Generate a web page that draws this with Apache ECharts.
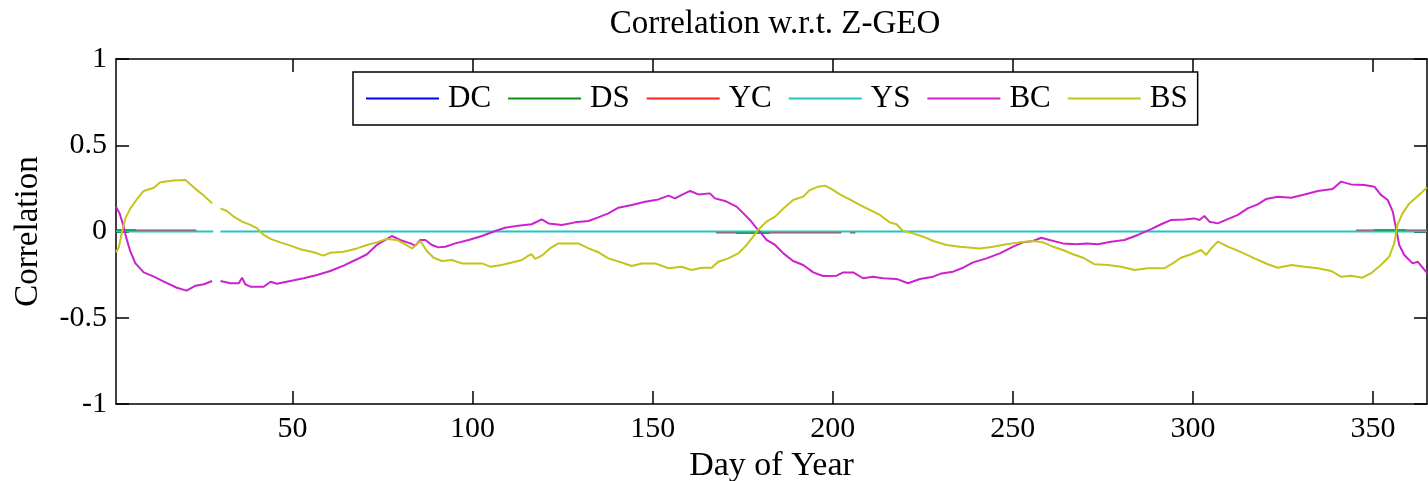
<!DOCTYPE html>
<html>
<head>
<meta charset="utf-8">
<script src="https://cdn.jsdelivr.net/npm/echarts@6/dist/echarts.min.js"></script>
<style>
  html, body { margin: 0; padding: 0; background: #fff; }
  #chart { width: 1428px; height: 481px; }
</style>
</head>
<body>
<div id="chart"></div>
<script>
// x ticks (day of year)
const xTicks = [50, 100, 150, 200, 250, 300, 350]

// near-zero coefficient lines, null = gap in data
const dcDays = [1, 6.5, 6.6, 173.2, 182.6, 182.7, 350.2, 359.1]
const dcVals = [0.006, 0.006, null, -0.006, -0.006, null, 0.006, 0.006]
const dsDays = [1, 6.5, 6.6, 173.2, 182.6, 182.7, 350.2, 359.1]
const dsVals = [0.006, 0.006, null, -0.006, -0.006, null, 0.006, 0.006]
const ycDays = [6.5, 23.3, 23.4, 167.6, 173.2, 173.3, 182.6, 202.4, 202.5, 204.8, 206.3, 206.4, 345.3, 350.2, 350.3, 359.1, 365]
const ycVals = [0.006, 0.006, null, -0.006, -0.006, null, -0.006, -0.006, null, -0.006, -0.006, null, 0.006, 0.006, null, 0.006, 0.006]
const ysDays = [1, 28, 29, 30, 365]
const ysVals = [0, 0, null, 0, 0]

// BC (magenta)
const bcDays = [1, 2, 3, 3.9, 5, 6.4, 8.7, 11.5, 14.3, 17.9, 20.6, 23.1, 25.4, 27.7, 29,
  30, 32.8, 35.1, 36, 36.9, 38.3, 42, 43.9, 45.7, 49.4, 53.1, 56.8, 60.5, 64.2, 67.9,
  70.7, 73.4, 75.8, 77.6, 79.9, 82.7, 84.1, 85.5, 86.9, 88.7, 90.5, 92.4, 95.2, 98.9,
  102.6, 106.3, 109, 112.7, 116.4, 119.2, 121.1, 124.8, 128.5, 132.2, 134.9, 137.7,
  140.5, 144.2, 147.9, 151.6, 154.4, 156.2, 158.1, 160.4, 162.7, 165.9, 167.3, 170.1,
  173.3, 175.2, 177, 178.9, 179.8, 181.6, 184, 186.3, 189, 191.8, 194.6, 197.3, 201.1,
  202.9, 205.7, 208.4, 211.2, 214, 217.7, 220.9, 224.2, 227.9, 230.2, 233.4, 236.2,
  239, 242.7, 246.4, 250.1, 252.8, 255.6, 257.9, 260.2, 263.9, 267.6, 270.5, 273.6,
  277.3, 281, 284.7, 288.4, 291.2, 294, 297.7, 300.4, 301.8, 303.2, 304.6, 306.9,
  309.7, 312.5, 315.2, 318, 320.3, 323.6, 327.3, 331, 334.7, 338.8, 341.1, 343.9,
  347.6, 350.4, 352.2, 354.1, 355.5, 356.4, 357.3, 358.7, 361, 362.4, 364.7, 365]
const bcVals = [0.144, 0.105, 0.038, -0.04, -0.117, -0.185, -0.237, -0.262, -0.291, -0.326, -0.343, -0.314, -0.306, -0.287, null,
  -0.287, -0.3, -0.3, -0.268, -0.306, -0.32, -0.32, -0.291, -0.303, -0.287, -0.271, -0.252, -0.229, -0.198, -0.161,
  -0.132, -0.078, -0.049, -0.026, -0.049, -0.069, -0.082, -0.049, -0.049, -0.078, -0.092, -0.088, -0.069, -0.049,
  -0.026, 0.003, 0.022, 0.034, 0.042, 0.07, 0.047, 0.038, 0.053, 0.061, 0.082, 0.105,
  0.138, 0.154, 0.173, 0.186, 0.208, 0.192, 0.212, 0.235, 0.215, 0.221, 0.192, 0.177,
  0.144, 0.105, 0.067, 0.018, -0.001, -0.049, -0.078, -0.127, -0.171, -0.194, -0.237, -0.258, -0.256,
  -0.237, -0.237, -0.271, -0.262, -0.271, -0.275, -0.3, -0.275, -0.262, -0.243, -0.233, -0.21,
  -0.179, -0.156, -0.127, -0.088, -0.063, -0.055, -0.036, -0.049, -0.069, -0.074, -0.069, -0.074,
  -0.059, -0.049, -0.02, 0.014, 0.042, 0.067, 0.07, 0.076, 0.067, 0.09, 0.057, 0.047,
  0.072, 0.096, 0.134, 0.157, 0.188, 0.202, 0.196, 0.215, 0.235, 0.246, 0.289, 0.273,
  0.27, 0.26, 0.212, 0.183, 0.115, 0.018, -0.078, -0.136, -0.185, -0.175, -0.233, -0.24]

// BS (yellow)
const bsDays = [1, 1.8, 2.7, 3.6, 5, 6.9, 8.7, 11.5, 13.3, 17, 20.3, 23.1, 25.4, 27.7, 29,
  30, 31.8, 33.7, 36, 38.3, 40.2, 42, 43.9, 46.6, 49.4, 52.2, 55.9, 58.6, 60.5, 64.2,
  67.9, 70.7, 73.4, 76.2, 79, 80.8, 83.2, 85.5, 87.3, 89.2, 91.5, 94.3, 97, 99.8,
  102.6, 104.9, 108.1, 110.9, 113.7, 115.5, 116.4, 117.4, 119.2, 121.5, 123.8, 126.6,
  129.4, 132.2, 134.9, 137.7, 141.4, 144.2, 147, 150.7, 154.4, 158.1, 160.8, 163.6,
  166.4, 168.2, 171, 173.8, 176.1, 177.9, 179.3, 181.6, 184, 186.3, 189, 191.8, 193.6,
  196, 197.8, 199.7, 202, 204.7, 207.5, 210.3, 213.1, 215.8, 217.7, 219.5, 222.3, 225.1,
  227.9, 231.6, 235.3, 240.8, 244.5, 248.2, 251.9, 255.6, 258.4, 261.1, 263.9, 266.7,
  269.5, 272.7, 276.4, 280.1, 283.8, 287.5, 292.1, 294.4, 296.7, 299.5, 302.3, 303.7,
  305.1, 306.9, 309.7, 313.4, 317.1, 320.8, 323.6, 327.3, 331, 334.7, 338.4, 341.1,
  343.9, 347.1, 349.4, 352.2, 354.5, 355.9, 356.8, 358.2, 360.1, 361.9, 363.3, 364.7, 365]
const bsVals = [-0.12, -0.09, 0, 0.076, 0.134, 0.19, 0.235, 0.254, 0.285, 0.295, 0.298, 0.246, 0.208, 0.163, null,
  0.134, 0.119, 0.086, 0.057, 0.038, 0.018, -0.02, -0.043, -0.063, -0.082, -0.103, -0.12, -0.14, -0.123, -0.117,
  -0.098, -0.078, -0.063, -0.043, -0.049, -0.069, -0.098, -0.055, -0.113, -0.152, -0.171, -0.165, -0.185, -0.185,
  -0.185, -0.204, -0.194, -0.18, -0.165, -0.14, -0.132, -0.159, -0.14, -0.098, -0.069, -0.069,
  -0.069, -0.098, -0.12, -0.156, -0.18, -0.2, -0.185, -0.185, -0.213, -0.204, -0.223, -0.21,
  -0.21, -0.175, -0.156, -0.127, -0.078, -0.03, 0.009, 0.057, 0.086, 0.134, 0.183, 0.202, 0.24,
  0.26, 0.266, 0.246, 0.215, 0.186, 0.154, 0.125, 0.096, 0.053, 0.042, 0.003, -0.011, -0.03,
  -0.055, -0.078, -0.088, -0.098, -0.088, -0.074, -0.063, -0.055, -0.063, -0.088, -0.107, -0.132,
  -0.152, -0.19, -0.194, -0.204, -0.223, -0.213, -0.213, -0.185, -0.152, -0.132, -0.107, -0.136,
  -0.098, -0.059, -0.088, -0.12, -0.156, -0.19, -0.21, -0.194, -0.204, -0.213, -0.229, -0.262,
  -0.256, -0.268, -0.243, -0.194, -0.146, -0.069, 0.038, 0.105, 0.163, 0.196, 0.221, 0.25, 0.255]

const pairs = (days, vals) => days.map((d, i) => [d, vals[i]])

const font = 'Liberation Serif, Times New Roman, serif'
const fs = 30

const chart = echarts.init(document.getElementById('chart'))

const mkLine = (name, color, days, vals) => ({
  name,
  type: 'line',
  data: pairs(days, vals),
  symbol: 'none',
  connectNulls: false,
  lineStyle: { color, width: 2 },
  itemStyle: { color },
  animation: false
})

const tickStyle = { show: true, inside: true, length: 13, lineStyle: { color: '#000', width: 1.5 } }
const lineBlack = { show: true, onZero: false, lineStyle: { color: '#000', width: 1.5 } }

chart.setOption({
  backgroundColor: '#fff',
  animation: false,
  title: {
    text: 'Correlation w.r.t. Z-GEO',
    left: 770,
    top: 3,
    textAlign: 'center',
    textStyle: { fontFamily: font, fontSize: 33, fontWeight: 'normal', color: '#000' }
  },
  legend: {
    data: ['DC', 'DS', 'YC', 'YS', 'BC', 'BS'],
    left: 353,
    top: 72,
    padding: [11, 10, 11, 12],
    itemGap: 16,
    itemWidth: 73,
    itemHeight: 14,
    borderColor: '#000',
    borderWidth: 1.5,
    backgroundColor: '#fff',
    itemStyle: { opacity: 0 },
    textStyle: { fontFamily: font, fontSize: 31, color: '#000', padding: [0, 0, 0, 4] }
  },
  grid: { left: 116, right: 1, top: 59, bottom: 77, containLabel: false, outerBoundsMode: 'none' },
  xAxis: [
    {
      type: 'value', min: 1, max: 365, position: 'bottom',
      name: 'Day of Year', nameLocation: 'middle', nameGap: 44,
      nameTextStyle: { fontFamily: font, fontSize: 34, color: '#000' },
      axisLine: lineBlack,
      axisTick: Object.assign({ customValues: xTicks }, tickStyle),
      axisLabel: { customValues: xTicks, fontFamily: font, fontSize: fs, color: '#000', margin: 10 },
      splitLine: { show: false }
    },
    {
      type: 'value', min: 1, max: 365, position: 'top',
      axisLine: lineBlack,
      axisTick: Object.assign({ customValues: xTicks }, tickStyle),
      axisLabel: { show: false },
      splitLine: { show: false }
    }
  ],
  yAxis: [
    {
      type: 'value', min: -1, max: 1, interval: 0.5, position: 'left',
      name: 'Correlation', nameLocation: 'middle', nameGap: 71, nameRotate: 90,
      nameTextStyle: { fontFamily: font, fontSize: 33, color: '#000' },
      axisLine: lineBlack,
      axisTick: tickStyle,
      axisLabel: { fontFamily: font, fontSize: fs, color: '#000', margin: 9 },
      splitLine: { show: false }
    },
    {
      type: 'value', min: -1, max: 1, interval: 0.5, position: 'right',
      axisLine: lineBlack,
      axisTick: tickStyle,
      axisLabel: { show: false },
      splitLine: { show: false }
    }
  ],
  series: [
    mkLine('DC', '#0000ff', dcDays, dcVals),
    mkLine('DS', '#109010', dsDays, dsVals),
    mkLine('YC', '#ff2020', ycDays, ycVals),
    mkLine('YS', '#22c4c4', ysDays, ysVals),
    mkLine('BC', '#cc22cc', bcDays, bcVals),
    mkLine('BS', '#c4c41a', bsDays, bsVals)
  ]
})
</script>
</body>
</html>
